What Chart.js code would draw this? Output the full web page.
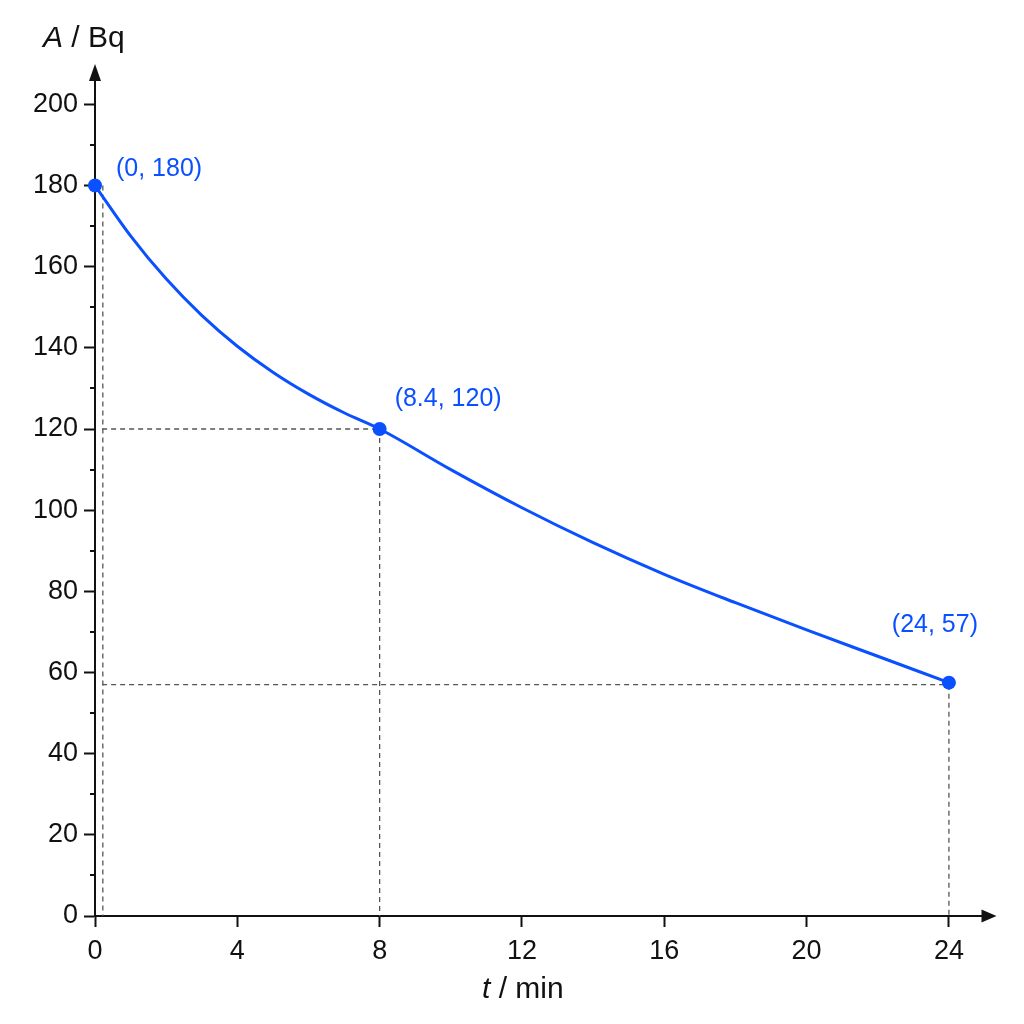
<!DOCTYPE html>
<html><head><meta charset="utf-8">
<script src="https://cdn.jsdelivr.net/npm/chart.js@4.4.1/dist/chart.umd.min.js"></script>
<style>html,body{margin:0;padding:0;background:#fff;} canvas{display:block;}</style>
</head><body>
<canvas id="c" width="1024" height="1024" style="width:1024px;height:1024px"></canvas>
<script>
// ---- data ----
const tMin = [0, 1, 2, 3, 4, 5, 6, 7, 8, 10, 12, 14, 16, 18, 20, 22, 24];
const activityBq = [180, 167.6, 157, 148, 140.4, 134, 128.6, 124, 120, 110, 100.6, 92, 84.2, 77.2, 70.5, 64, 57.5];
const markT = [0, 8, 24];
const markA = [180, 120, 57.5];
const markLabels = ['(0, 180)', '(8.4, 120)', '(24, 57)'];
const xTicks = [0, 4, 8, 12, 16, 20, 24];
const yTicks = [0, 20, 40, 60, 80, 100, 120, 140, 160, 180, 200];
const yMinorTicks = [10, 30, 50, 70, 90, 110, 130, 150, 170, 190];
const guideT = [[0.22, 0.22], [0.2, 8], [8, 8], [0.2, 24], [24, 24]];
const guideA = [[180, 0], [120, 120], [120, 0], [57, 57], [57, 0]];
const xTitle = ['t', ' / min'];
const yTitle = ['A', ' / Bq'];

// ---- styles ----
const BLUE = '#0a50ff';
const INK = '#111111';
const labelOffsets = [[21, -6, 'left'], [15, -20, 'left'], [-14, -48, 'center']];

const guideSets = guideT.map((ts, i) => ({
  data: ts.map((t, j) => ({x: t, y: guideA[i][j]})),
  showLine: true, borderColor: '#555', borderWidth: 1.3, borderDash: [5, 4],
  pointRadius: 0, fill: false
}));

const decor = {
  id: 'decor',
  afterDraw(chart) {
    const ctx = chart.ctx, xs = chart.scales.x, ys = chart.scales.y;
    ctx.save();
    // minor y ticks
    ctx.strokeStyle = INK; ctx.lineWidth = 2;
    yMinorTicks.forEach(v => {
      const py = Math.round(ys.getPixelForValue(v));
      ctx.beginPath(); ctx.moveTo(xs.left - 5, py); ctx.lineTo(xs.left, py); ctx.stroke();
    });
    // arrowheads
    ctx.fillStyle = INK;
    const xr = xs.getPixelForValue(xs.max), yb = ys.getPixelForValue(0);
    ctx.beginPath(); ctx.moveTo(xr - 3, yb - 6.5); ctx.lineTo(xr + 12, yb); ctx.lineTo(xr - 3, yb + 6.5); ctx.closePath(); ctx.fill();
    const yt = ys.getPixelForValue(ys.max), xl = xs.getPixelForValue(0);
    ctx.beginPath(); ctx.moveTo(xl - 6, yt + 1); ctx.lineTo(xl, yt - 16); ctx.lineTo(xl + 6, yt + 1); ctx.closePath(); ctx.fill();
    // axis titles
    const fam = '"Liberation Sans", Arial, sans-serif';
    ctx.textBaseline = 'alphabetic'; ctx.textAlign = 'left';
    function mixed(parts, x, y) {
      ctx.font = 'italic 30px ' + fam; ctx.fillText(parts[0], x, y);
      const w = ctx.measureText(parts[0]).width;
      ctx.font = '30px ' + fam; ctx.fillText(parts[1], x + w, y);
    }
    mixed(yTitle, 43, 47);
    mixed(xTitle, 482, 998);
    // point labels
    ctx.fillStyle = BLUE; ctx.font = '25px ' + fam; ctx.textBaseline = 'middle';
    markLabels.forEach((lab, i) => {
      const px = xs.getPixelForValue(markT[i]), py = ys.getPixelForValue(markA[i]);
      const o = labelOffsets[i];
      ctx.textAlign = o[2];
      ctx.fillText(lab, px + o[0], py + o[1] - 10);
    });
    ctx.restore();
  }
};

new Chart(document.getElementById('c'), {
  type: 'scatter',
  data: {
    datasets: [
      { data: markT.map((t, i) => ({x: t, y: markA[i]})), pointRadius: 7, pointHoverRadius: 7,
        pointBackgroundColor: BLUE, pointBorderColor: BLUE, pointBorderWidth: 0, showLine: false, clip: false },
      { data: tMin.map((t, i) => ({x: t, y: activityBq[i]})), showLine: true, borderColor: BLUE,
        borderWidth: 3, pointRadius: 0, cubicInterpolationMode: 'monotone', fill: false, clip: false },
      ...guideSets
    ]
  },
  options: {
    responsive: false, animation: false,
    layout: { padding: { left: 0, top: 80, right: 39.5, bottom: 0 } },
    plugins: { legend: { display: false }, tooltip: { enabled: false } },
    scales: {
      x: {
        type: 'linear', min: 0, max: 25,
        afterFit: s => { s.height = 108; },
        afterBuildTicks: s => { s.ticks = xTicks.map(v => ({value: v})); },
        ticks: { font: { family: '"Liberation Sans", Arial, sans-serif', size: 27 }, color: INK, padding: 8, maxRotation: 0, autoSkip: false },
        grid: { drawOnChartArea: false, drawTicks: true, tickLength: 11, tickWidth: 2, tickColor: INK },
        border: { display: true, color: INK, width: 2 }
      },
      y: {
        type: 'linear', min: 0, max: 206,
        afterFit: s => { s.width = 95; },
        afterBuildTicks: s => { s.ticks = yTicks.map(v => ({value: v})); },
        ticks: { font: { family: '"Liberation Sans", Arial, sans-serif', size: 27 }, color: INK, padding: 6, autoSkip: false },
        grid: { drawOnChartArea: false, drawTicks: true, tickLength: 11, tickWidth: 2, tickColor: INK },
        border: { display: true, color: INK, width: 2 }
      }
    }
  },
  plugins: [decor]
});
</script>
</body></html>
